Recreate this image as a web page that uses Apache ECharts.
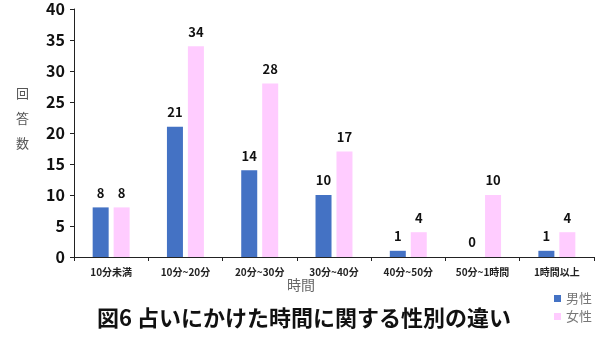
<!DOCTYPE html>
<html>
<head>
<meta charset="utf-8">
<script src="https://cdn.jsdelivr.net/npm/echarts@6/dist/echarts.min.js"></script>
<style>
  html, body { margin: 0; padding: 0; background: #fff; }
  #chart { width: 600px; height: 337px; }
</style>
</head>
<body>
<div id="chart"></div>
<script>
// 回答時間の区分
const categories = ['10分未満', '10分~20分', '20分~30分', '30分~40分', '40分~50分', '50分~1時間', '1時間以上'];
// 性別ごとの回答数
const maleCounts = [8, 21, 14, 10, 1, 0, 1];
const femaleCounts = [8, 34, 28, 17, 4, 10, 4];
const yTicks = { min: 0, max: 40, interval: 5 };

const FONT = '"Noto Sans CJK JP", "Noto Sans", sans-serif';

const chart = echarts.init(document.getElementById('chart'), null, { renderer: 'canvas' });

const labelStyle = {
  show: true,
  position: 'top',
  distance: 8,
  color: '#111',
  fontWeight: 'bold',
  fontSize: 13,
  fontFamily: FONT
};

chart.setOption({
  animation: false,
  textStyle: { fontFamily: FONT },
  title: {
    text: '図6 占いにかけた時間に関する性別の違い',
    left: 299,
    textAlign: 'center',
    top: 302,
    textStyle: { fontSize: 22, fontWeight: 'bold', color: '#111', fontFamily: FONT }
  },
  legend: {
    orient: 'vertical',
    left: 549,
    top: 287,
    itemWidth: 7,
    itemHeight: 7,
    itemGap: 5,
    icon: 'rect',
    textStyle: { fontSize: 13, color: '#777', fontFamily: FONT },
    data: ['男性', '女性']
  },
  graphic: [
    {
      type: 'text',
      left: 16,
      top: 81,
      style: {
        text: '回\n答\n数',
        fontSize: 13,
        lineHeight: 25,
        fill: '#555',
        fontFamily: FONT
      }
    },
    {
      type: 'text',
      left: 287,
      top: 278,
      style: {
        text: '時間',
        fontSize: 14,
        fill: '#666',
        fontFamily: FONT
      }
    }
  ],
  grid: { left: 74, right: 6, top: 9, bottom: 80, containLabel: false },
  xAxis: {
    type: 'category',
    data: categories,
    axisLine: { lineStyle: { color: '#222', width: 1 } },
    axisTick: { show: true, length: 4, lineStyle: { color: '#222' } },
    axisLabel: { fontSize: 10, fontWeight: 'bold', color: '#222', margin: 10, interval: 0 }
  },
  yAxis: {
    type: 'value',
    min: yTicks.min,
    max: yTicks.max,
    interval: yTicks.interval,
    axisLine: { show: true, lineStyle: { color: '#222', width: 1 } },
    axisTick: { show: true, length: 4, lineStyle: { color: '#222' } },
    splitLine: { show: false },
    axisLabel: { fontSize: 16, fontWeight: 'bold', color: '#111', margin: 9 }
  },
  series: [
    {
      name: '男性',
      type: 'bar',
      data: maleCounts,
      barWidth: 16,
      barGap: '31%',
      itemStyle: { color: '#4472C4' },
      label: labelStyle
    },
    {
      name: '女性',
      type: 'bar',
      data: femaleCounts,
      barWidth: 16,
      itemStyle: { color: '#FFCCFF' },
      label: labelStyle
    }
  ]
});
</script>
</body>
</html>
